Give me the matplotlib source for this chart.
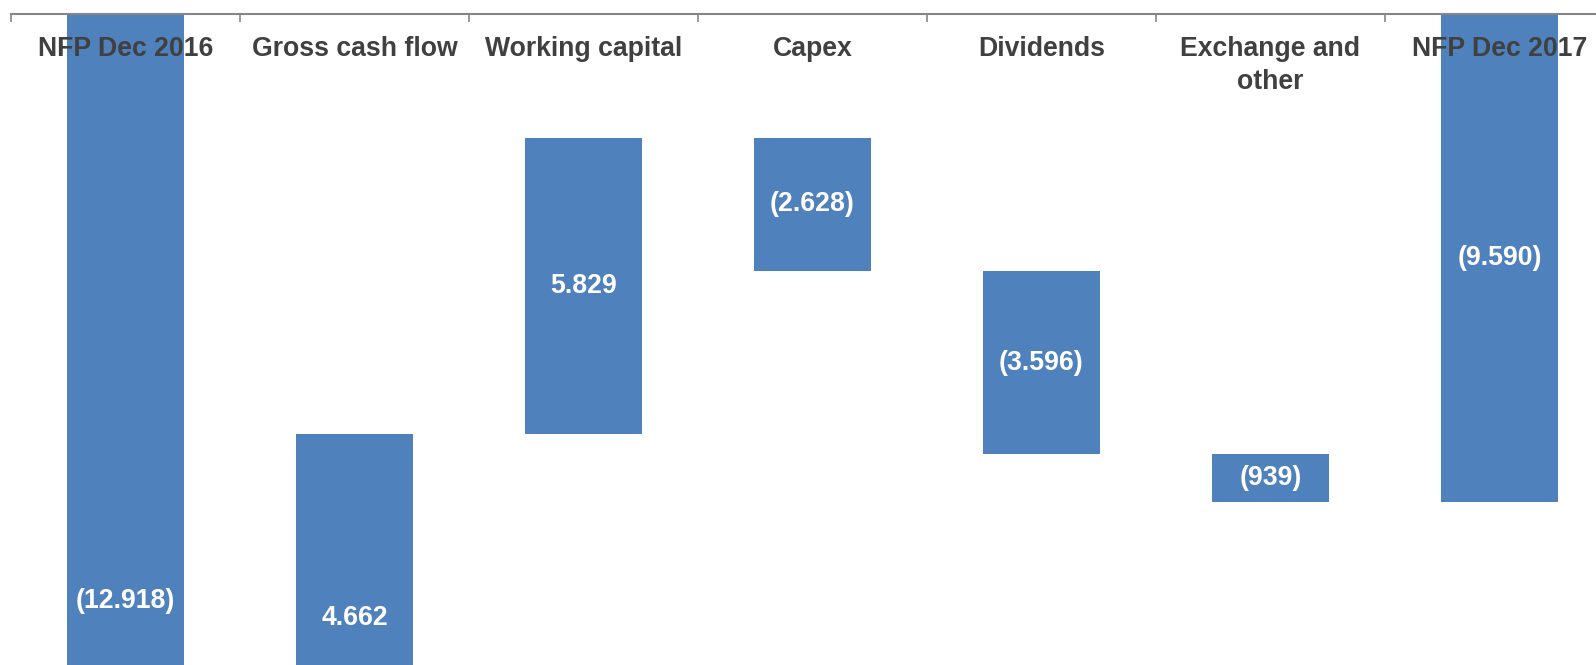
import matplotlib.pyplot as plt
import numpy as np

categories = ["NFP Dec 2016", "Gross cash flow", "Working capital", "Capex",
              "Dividends", "Exchange and\nother", "NFP Dec 2017"]
values = [-12918, 4662, 5829, -2628, -3596, -939, -9590]
is_total = [True, False, False, False, False, False, True]

BAR_COLOR = "#4F81BD"
TEXT_COLOR = "#404040"
AXIS_COLOR = "#868686"

plt.rcParams["font.family"] = ["Liberation Sans", "DejaVu Sans"]


def fmt(v):
    s = f"{abs(v):,}".replace(",", ".")
    return f"({s})" if v < 0 else s


# waterfall: totals hang from zero, steps float on the running total
bottoms, tops = [], []
running = 0
for v, tot in zip(values, is_total):
    if tot:
        lo, hi = v, 0
        running = v
    else:
        lo, hi = sorted([running, running + v])
        running += v
    bottoms.append(lo)
    tops.append(hi)
bottoms = np.array(bottoms)
tops = np.array(tops)

W, H = 1596, 665
fig = plt.figure(figsize=(W / 100, H / 100), dpi=100)
ax = fig.add_axes([11 / W, 0, 1603 / W, 651 / H])

x = np.arange(len(categories))
ax.bar(x, tops - bottoms, bottom=bottoms, width=0.515, color=BAR_COLOR)

ax.set_xlim(-0.5, len(categories) - 0.5)
ax.set_ylim(-12793, 0)

# labels for bars running off the bottom sit near the lower edge
clipped_label_y = {0: -11540, 1: -11860}
for i, v in enumerate(values):
    y = clipped_label_y.get(i, (bottoms[i] + tops[i]) / 2)
    ax.text(x[i], y, fmt(v), ha="center", va="center", color="white",
            fontsize=19.2, fontweight="bold")

for i, c in enumerate(categories):
    ax.text(x[i], 1 - 22 / 651, c, transform=ax.get_xaxis_transform(),
            ha="center", va="top", color=TEXT_COLOR, fontsize=19.2,
            fontweight="bold", linespacing=1.37)

for s in ["left", "right", "bottom"]:
    ax.spines[s].set_visible(False)
ax.spines["top"].set_color(AXIS_COLOR)
ax.spines["top"].set_linewidth(1.5)
ax.set_yticks([])
ax.set_xticks(np.arange(-0.5, len(categories)))
ax.xaxis.set_ticks_position("top")
ax.tick_params(axis="x", direction="in", length=6, width=1.2,
               color=AXIS_COLOR, labeltop=False, labelbottom=False)

fig.savefig("out.png", dpi=100)
